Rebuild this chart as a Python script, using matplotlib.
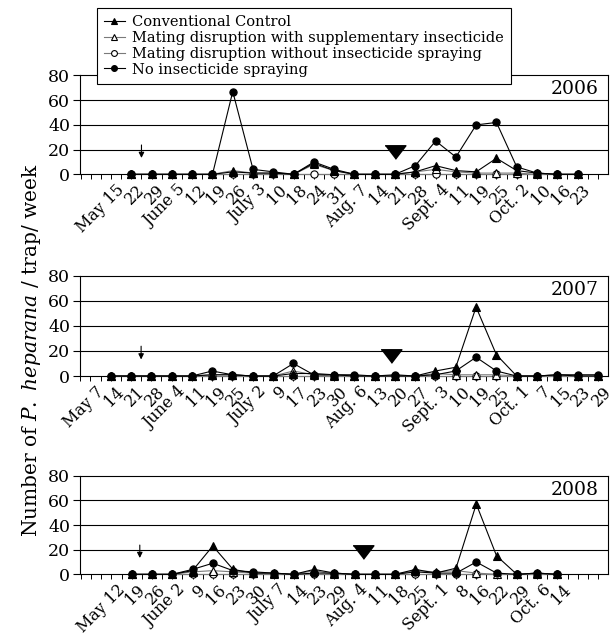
import numpy as np
import matplotlib
matplotlib.use('Agg')
import matplotlib.pyplot as plt
from matplotlib.lines import Line2D
from matplotlib.transforms import ScaledTranslation

plt.rcParams['font.family'] = 'DejaVu Serif'
plt.rcParams['mathtext.fontset'] = 'dejavuserif'

series_names = ['Conventional Control',
                'Mating disruption with supplementary insecticide',
                'Mating disruption without insecticide spraying',
                'No insecticide spraying']

years = ['2006', '2007', '2008']

# tick labels: first label sits one week before the first sample
labels_2006 = ['May 15', '22', '29', 'June 5', '12', '19', '26', 'July 3', '10', '18', '24', '31',
               'Aug. 7', '14', '21', '28', 'Sept. 4', '11', '19', '25', 'Oct. 2', '10', '16', '23']
labels_2007 = ['May 7', '14', '21', '28', 'June 4', '11', '19', '25', 'July 2', '9', '17', '23', '30',
               'Aug. 6', '13', '20', '27', 'Sept. 3', '10', '19', '25', 'Oct. 1', '7', '15', '23', '29']
labels_2008 = ['May 12', '19', '26', 'June 2', '9', '16', '23', '30', 'July 7', '14', '23', '29',
               'Aug. 4', '11', '18', '25', 'Sept. 1', '8', '16', '22', '29', 'Oct. 6', '14']

conv_2006 = [0, 0, 0, 0, 0, 2, 1, 1, 0, 9, 3, 0, 0, 0, 2, 7, 3, 2, 13, 3, 1, 0, 0]
mds_2006 = [0, 0, 0, 0, 0, 3, 1, 1, 0, 8, 3, 0, 0, 0, 2, 4, 2, 1, 1, 1, 0, 0, 0]
mdn_2006 = [0] * 23
none_2006 = [0, 0, 0, 0, 0, 67, 4, 2, 0, 10, 4, 0, 0, 0, 7, 27, 14, 40, 42, 6, 1, 0, 0]

conv_2007 = [0, 0, 0, 0, 0, 1, 1, 0, 0, 2, 2, 1, 0, 0, 0, 0, 4, 7, 55, 17, 0, 0, 1, 0, 0]
mds_2007 = [0, 0, 0, 0, 0, 1, 1, 0, 0, 4, 1, 0, 0, 0, 0, 0, 2, 1, 1, 1, 0, 0, 0, 0, 0]
mdn_2007 = [0] * 25
none_2007 = [0, 0, 0, 0, 0, 4, 1, 0, 0, 10, 1, 1, 1, 0, 1, 0, 1, 4, 15, 4, 0, 0, 1, 1, 1]

conv_2008 = [0, 0, 0, 3, 23, 4, 1, 1, 0, 4, 1, 0, 0, 0, 4, 1, 5, 57, 15, 0, 1, 0]
mds_2008 = [0, 0, 0, 2, 3, 2, 1, 0, 0, 3, 0, 0, 0, 0, 3, 2, 3, 1, 0, 0, 0, 0]
mdn_2008 = [0] * 22
none_2008 = [0, 0, 0, 4, 9, 3, 2, 1, 0, 1, 1, 0, 0, 0, 2, 1, 1, 10, 1, 0, 1, 0]

# small arrow (week index) and big triangle (week index, height) per year
arrow_x = [0.5, 1.5, 0.4]
big_tri_x = [13.0, 13.8, 11.4]
big_tri_y = [19, 17, 19]

xlims = [(-2.53, 23.5), (-1.51, 24.5), (-2.55, 23.5)]
positions = [[0.1303, 0.7289, 0.860, 0.1537],
             [0.1303, 0.4152, 0.860, 0.1560],
             [0.1303, 0.1068, 0.860, 0.1533]]

data = [
    (labels_2006, conv_2006, mds_2006, mdn_2006, none_2006),
    (labels_2007, conv_2007, mds_2007, mdn_2007, none_2007),
    (labels_2008, conv_2008, mds_2008, mdn_2008, none_2008),
]

styles = [
    dict(marker='^', mfc='black', mec='black', color='black'),
    dict(marker='^', mfc='white', mec='black', color='#7a7a7a'),
    dict(marker='o', mfc='white', mec='black', color='#7a7a7a'),
    dict(marker='o', mfc='black', mec='black', color='black'),
]
zorders = [5, 4, 3, 6]

fig = plt.figure(figsize=(6.14, 6.43), dpi=100)

for k, (labels, conv, mds, mdn, none) in enumerate(data):
    ax = fig.add_axes(positions[k])
    x = np.arange(len(conv))
    for vals, st, z in zip([conv, mds, mdn, none], styles, zorders):
        ax.plot(x, vals, lw=0.8, ms=5.2, mew=0.8, clip_on=False, zorder=z, **st)

    ax.set_xlim(*xlims[k])
    ax.set_ylim(0, 80)
    ax.set_yticks([0, 20, 40, 60, 80])
    ax.tick_params(axis='y', direction='out', length=5, width=0.8, labelsize=12.5, pad=2)
    for g in [20, 40, 60]:
        ax.axhline(g, color='black', lw=0.8, zorder=1)

    lo, hi = xlims[k]
    ax.set_xticks(np.arange(np.ceil(lo * 2) / 2, hi, 0.5))
    ax.tick_params(axis='x', direction='out', length=3.5, width=0.7, labelbottom=False)
    for s in ax.spines.values():
        s.set_linewidth(0.8)

    # rotated date labels
    off = ScaledTranslation(5 / 100, -7 / 100, fig.dpi_scale_trans)
    for i, lab in enumerate(labels):
        ax.text(i - 1, 0, lab, transform=ax.get_xaxis_transform() + off,
                rotation=45, rotation_mode='anchor', ha='right', va='top', fontsize=11.5)

    ax.text(0.982, 0.95, years[k], transform=ax.transAxes, ha='right', va='top', fontsize=13.5)

    ax.annotate('', xy=(arrow_x[k], 11), xytext=(arrow_x[k], 26),
                arrowprops=dict(arrowstyle='-|>', color='black', lw=0.8, mutation_scale=8))
    ax.plot([big_tri_x[k]], [big_tri_y[k]], marker=[(-1, 0.55), (1, 0.55), (0, -0.75)],
            ms=15, color='black', zorder=7)

handles = [Line2D([0], [0], lw=0.8, ms=4.2, mew=0.8, **st) for st in styles]
leg = fig.legend(handles, series_names, loc='upper left',
                 bbox_to_anchor=(97 / 614, 1 - 8 / 643), fontsize=10.5,
                 handlelength=1.4, handletextpad=0.5, labelspacing=0.12,
                 borderpad=0.5, borderaxespad=0, fancybox=False, framealpha=1,
                 edgecolor='black')
leg.get_frame().set_linewidth(0.8)

fig.text(0.052, 0.456, r'Number of $\it{P.\ heparana}$ / trap/ week', rotation=90,
         ha='center', va='center', fontsize=14.5)

fig.savefig('out.png', dpi=100)
